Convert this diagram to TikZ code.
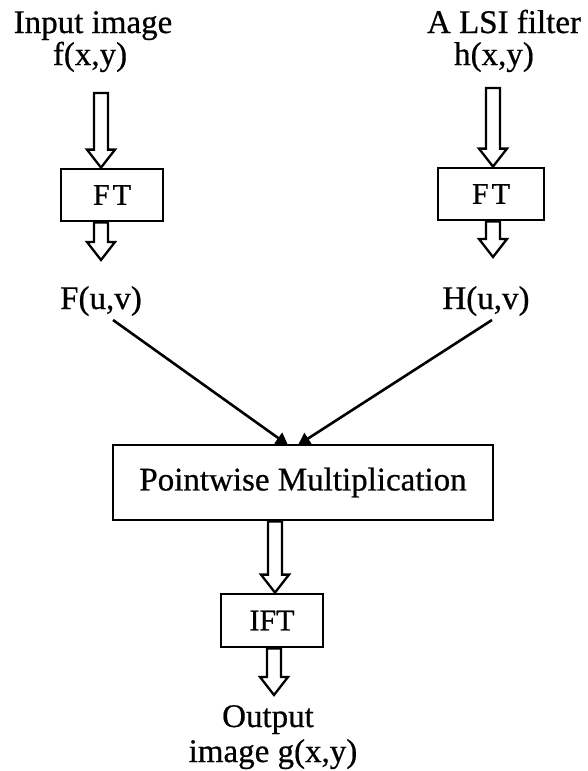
\documentclass[tikz,border=0pt]{standalone}
\usepackage{fontspec}
\setmainfont{Liberation Serif}[FakeBold=0.6]
\usetikzlibrary{calc,arrows.meta}

% hollow block arrow from #1 (shaft end) to #2 (tip)
\newcommand\hollowarrow[2]{%
  \draw[hollow] let \p1=(#1), \p2=(#2) in
    (\x1-7pt,\y1) -- (\x1-7pt,\y2+18pt) -- (\x1-14pt,\y2+18pt) -- (\x1,\y2)
    -- (\x1+14pt,\y2+18pt) -- (\x1+7pt,\y2+18pt) -- (\x1+7pt,\y1) -- cycle;}

\begin{document}
\begin{tikzpicture}[x=1pt,y=1pt,
  lbl/.style={font=\fontsize{33}{40}\selectfont, anchor=base, inner sep=0pt},
  boxlbl/.style={draw, line width=2.8pt, inner sep=0pt,
    font=\fontsize{30}{36}\selectfont},
  hollow/.style={draw, line width=2.3pt, fill=white, line join=miter},
  link/.style={line width=2.6pt, -{Triangle[length=12pt,width=13pt]}}]
  \useasboundingbox (0,0) rectangle (588,-771);

  % left column: input image
  \node[lbl] (inA) at (93,-33) {Input image};
  \node[lbl] (inB) at (90,-65) {f(x,y)};
  \coordinate (aL) at (101,-93);
  \node[boxlbl, minimum width=102pt, minimum height=52pt] (ftL) at (112,-195) {F\kern3pt T};
  \node[lbl] (FL) at (101,-309) {F(u,v)};
  \coordinate (bL) at (101,-260);

  % right column: filter
  \node[lbl] (hA) at (504,-33) {A LSI filter};
  \node[lbl] (hB) at (494,-65) {h(x,y)};
  \coordinate (aR) at (493,-88);
  \node[boxlbl, minimum width=106pt, minimum height=52pt] (ftR) at (491,-194) {F\kern3pt T};
  \node[lbl] (HR) at (486,-309) {H(u,v)};
  \coordinate (bR) at (493,-257);

  % product and inverse transform
  \node[boxlbl, minimum width=380pt, minimum height=75pt,
    font=\fontsize{33}{40}\selectfont] (pm) at (303,-482.5) {Pointwise Multiplication};
  \node[boxlbl, minimum width=102pt, minimum height=53pt] (ift) at (272,-620.5) {IFT};
  \coordinate (cA) at (275,-520);
  \coordinate (dA) at (274,-695);
  \node[lbl] (outA) at (268,-727) {Output};
  \node[lbl] (outB) at (273,-762) {image g(x,y)};

  % block arrows
  \hollowarrow{aL}{aL |- ftL.north}
  \hollowarrow{aL |- ftL.south}{bL}
  \hollowarrow{aR}{aR |- ftR.north}
  \hollowarrow{aR |- ftR.south}{bR}
  \hollowarrow{cA |- pm.south}{cA |- ift.north}
  \hollowarrow{dA |- ift.south}{dA}

  % spectra into the multiplier
  \coordinate (sL) at (113,-320);
  \coordinate (sR) at (492,-320);
  \coordinate (tL) at (288,-445);
  \coordinate (tR) at (298,-445);
  \draw[link] (sL) -- (tL);
  \draw[link] (sR) -- (tR);
\end{tikzpicture}
\end{document}
